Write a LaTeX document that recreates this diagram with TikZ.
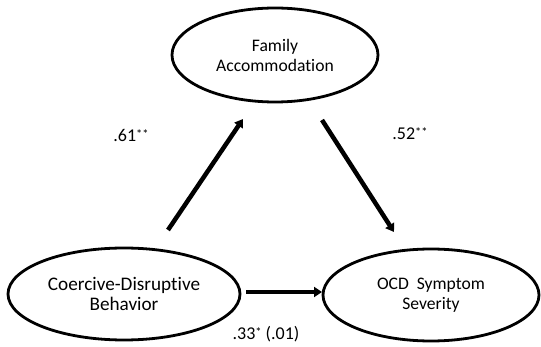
\documentclass[tikz,border=0pt]{standalone}
\usepackage{fontspec}
\setmainfont[Ligatures=NoCommon]{Carlito}
\usetikzlibrary{shapes.geometric,arrows.meta}
\newcommand\sigmark[1]{{\fontsize{12.5}{12}\selectfont\raisebox{3pt}{#1}}}
\begin{document}
\begin{tikzpicture}[x=1pt,y=-1pt,
  var/.style={ellipse,draw,line width=2.8pt,align=center,font=\fontsize{17.6}{20}\selectfont},
  path/.style={line width=4.5pt,-{Triangle[length=8pt,width=10pt]}},
  lab/.style={font=\fontsize{18}{20}\selectfont}]
\useasboundingbox (0,0) rectangle (541,347);
\node[var,minimum width=206,minimum height=94] (fa) at (275,55) {Family\\Accommodation};
\node[var,minimum width=232,minimum height=92,font=\fontsize{19.2}{20}\selectfont] (cd) at (124,294) {Coercive-Disruptive\\Behavior};
\node[var,minimum width=216,minimum height=92] (ocd) at (431,295) {OCD\ \ Symptom\\Severity};
\coordinate (a1s) at (168,230); \coordinate (a1e) at (243,119);
\coordinate (a2s) at (322,120); \coordinate (a2e) at (394,232);
\coordinate (a3s) at (246,292); \coordinate (a3e) at (322,292);
\draw[path] (a1s) -- (a1e);
\draw[path] (a2s) -- (a2e);
\draw[path] (a3s) -- (a3e);
\node[lab] (l1) at (131,135) {.61\sigmark{**}};
\node[lab] (l2) at (410,134) {.52\sigmark{**}};
\node[lab] (l3) at (266,334) {.33\sigmark{*} (.01)};
\end{tikzpicture}
\end{document}
